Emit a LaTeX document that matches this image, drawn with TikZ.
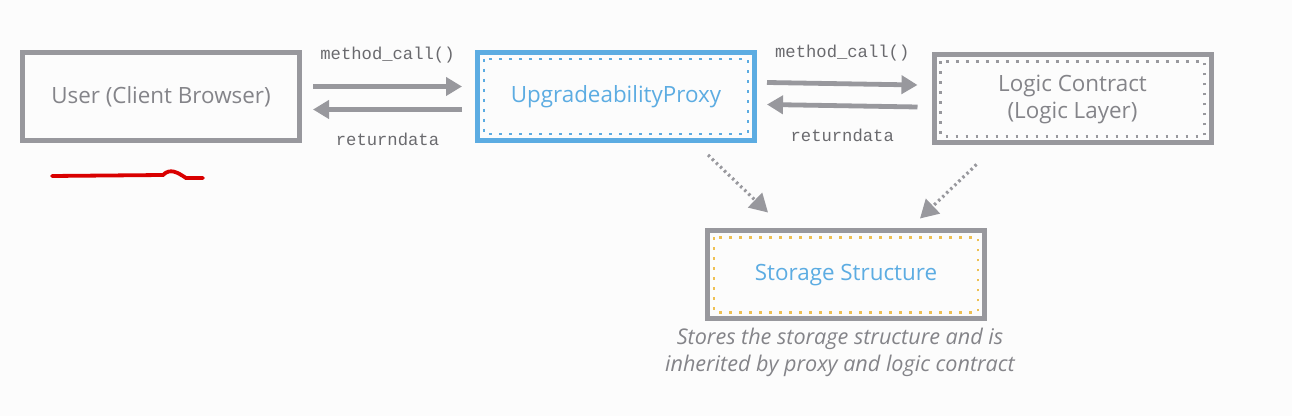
\documentclass[tikz,border=0pt]{standalone}
\usepackage{fontspec}
\setmainfont{Open Sans}
\setmonofont{Liberation Mono}
\usetikzlibrary{arrows.meta, positioning}
\definecolor{boxgray}{RGB}{152,152,157}
\definecolor{txtgray}{RGB}{132,132,137}
\definecolor{proxyblue}{RGB}{92,172,226}
\definecolor{storeyellow}{RGB}{238,192,82}
\definecolor{paper}{RGB}{252,252,252}
\newcommand{\innerdots}[2]{%
    \draw[dots, #2] ([shift={(9,9)}]#1.north west) rectangle ([shift={(-9,-9)}]#1.south east);}

\begin{document}
\begin{tikzpicture}[
        x=0.5pt,
        y=-0.5pt,
        every node/.style={font=\fontsize{11.2}{13.5}\selectfont, text=txtgray},
        box/.style={draw=boxgray, line width=2.5pt, minimum width=138.5pt, minimum height=44pt, inner sep=0pt, align=center},
        dots/.style={line width=1.4pt, dash pattern=on 1.3pt off 3.7pt},
        flow/.style={draw=boxgray, line width=2.4pt, -{Triangle[length=8pt, width=9pt]}},
        inherit/.style={draw=boxgray, line width=1.6pt, dash pattern=on 1.2pt off 1.6pt, -{Triangle[length=9pt, width=10pt]}},
        call/.style={font=\ttfamily\fontsize{8.6}{10}\selectfont, text=txtgray!80!black},
        note/.style={font=\itshape\fontsize{10.8}{13.5}\selectfont, align=center, text=txtgray}
    ]
    \fill[paper] (0,0) rectangle (1292,416);
    \useasboundingbox (0,0) rectangle (1292,416);

    \node[box] (user) at (161,96.5) {User (Client Browser)};
    \node[box, draw=proxyblue, text=proxyblue] (proxy) at (616,96.5) {UpgradeabilityProxy};
    \node[box] (logic) at (1072.5,99) {Logic Contract\\(Logic Layer)};
    \node[box, text=proxyblue] (store) at (846,275) {Storage Structure};

    \innerdots{proxy}{proxyblue}
    \innerdots{logic}{boxgray}
    \innerdots{store}{storeyellow}

    \draw[flow] ([shift={(11,-10)}]user.east) -- node[call, above=7pt]{method\_call()} ([shift={(-13,-10)}]proxy.west);
    \draw[flow] ([shift={(-13,13)}]proxy.west) -- node[call, below=7pt]{returndata} ([shift={(11,13)}]user.east);

    \draw[flow] ([shift={(10,-14)}]proxy.east) -- node[call, above=7pt]{method\_call()} ([shift={(-14,-14)}]logic.west);
    \draw[flow] ([shift={(-14,8)}]logic.west) -- node[call, below=7pt]{returndata} ([shift={(10,8)}]proxy.east);

    \draw[inherit] ([shift={(-49,12)}]proxy.south east) -- ([shift={(-78,-16)}]store.north);
    \draw[inherit] ([shift={(-237,19)}]logic.south east) -- ([shift={(74,-10)}]store.north);

    \node[note, below=0pt of store, xshift=-3pt] (caption) {Stores the storage structure and is\\inherited by proxy and logic contract};

    % red pen mark under the user box
    \draw[red!85!black, line width=1.9pt, line cap=round]
        (52,176) -- (163,175) .. controls (170,168) and (177,172) .. (186,178) -- (203,178);
\end{tikzpicture}
\end{document}
